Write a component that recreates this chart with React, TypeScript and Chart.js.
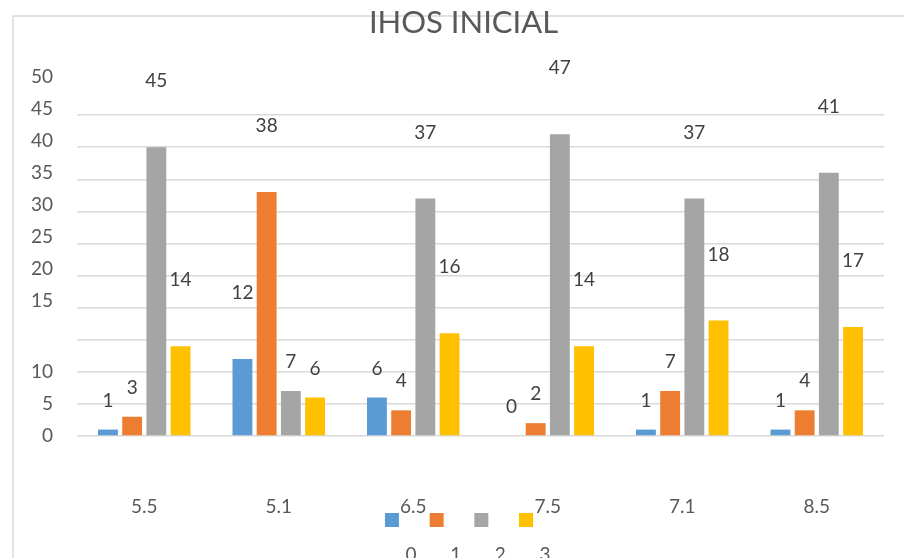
import { useEffect, useRef } from 'react';
import { Chart, registerables } from 'chart.js';

Chart.register(...registerables);

const title = 'IHOS INICIAL';
const categories = ['5.5', '5.1', '6.5', '7.5', '7.1', '8.5'];
const seriesNames = ['0', '1', '2', '3'];
const series0 = [1, 12, 6, 0, 1, 1];
const series1 = [3, 38, 4, 2, 7, 4];
const series2 = [45, 7, 37, 47, 37, 41];
const series3 = [14, 6, 16, 14, 18, 17];
const yTickValues = [0, 5, 10, 15, 20, 25, 30, 35, 40, 45, 50];
const colors = ['#5B9BD5', '#ED7D31', '#A5A5A5', '#FFC000'];

const FONT = 'Lato, "Open Sans", sans-serif';

const decor = {
  id: 'decor',
  beforeDraw(chart: any) {
    const ctx = chart.ctx;
    ctx.save();
    ctx.fillStyle = '#ffffff';
    ctx.fillRect(0, 0, chart.width, chart.height);
    ctx.strokeStyle = '#d9d9d9';
    ctx.lineWidth = 1.5;
    ctx.strokeRect(13, 16, chart.width + 20, chart.height + 20);
    ctx.restore();
  },
  afterDraw(chart: any) {
    const { ctx, chartArea, scales } = chart;
    const cx = (chartArea.left + chartArea.right) / 2;
    ctx.save();
    // title
    ctx.fillStyle = '#595959';
    ctx.font = `400 31px ${FONT}`;
    ctx.textAlign = 'center';
    ctx.textBaseline = 'alphabetic';
    ctx.fillText(title, cx - 17, 33);
    // y labels
    ctx.font = `19px ${FONT}`;
    ctx.textAlign = 'right';
    ctx.textBaseline = 'middle';
    yTickValues.forEach((v) => {
      const y = scales.y.getPixelForValue(v > 10 ? v + 6 : v);
      ctx.fillText(String(v), chartArea.left - 24, y);
    });
    // data labels
    ctx.fillStyle = '#404040';
    ctx.textAlign = 'center';
    chart.data.datasets.forEach((ds: any, di: number) => {
      const meta = chart.getDatasetMeta(di);
      meta.data.forEach((bar: any, i: number) => {
        const v = ds.data[i];
        ctx.fillText(String(v), bar.x, bar.y - (v >= 10 ? 66 : 29));
      });
    });
    // legend
    const spacing = 44.7;
    const legendCenter = cx - 21.5;
    const box = 14;
    ctx.font = `19px ${FONT}`;
    ctx.textBaseline = 'alphabetic';
    seriesNames.forEach((name, i) => {
      const sx = legendCenter + (i - 1.5) * spacing;
      ctx.fillStyle = colors[i];
      ctx.fillRect(sx - box / 2, 513, box, box);
      ctx.fillStyle = '#595959';
      ctx.fillText(name, sx + 19, 561);
    });
    ctx.restore();
  },
};

export default function App() {
  const ref = useRef<HTMLCanvasElement | null>(null);
  useEffect(() => {
    if (!ref.current) return;
    const seriesData = [series0, series1, series2, series3];
    const chart = new Chart(ref.current, {
      type: 'bar',
      data: {
        labels: categories,
        datasets: seriesNames.map((name, i) => ({
          label: name,
          data: seriesData[i],
          backgroundColor: colors[i],
          borderWidth: 0,
          categoryPercentage: 0.72,
          barPercentage: 0.82,
        })),
      },
      options: {
        responsive: false,
        animation: false,
        devicePixelRatio: 1,
        layout: { padding: { left: 77, right: 20, top: 83, bottom: 0 } },
        plugins: {
          legend: { display: false },
          title: { display: false },
          tooltip: { enabled: false },
        },
        scales: {
          x: {
            grid: { display: false },
            border: { display: false },
            ticks: {
              padding: 51,
              color: '#595959',
              font: { family: FONT, size: 19 },
            },
            afterFit: (scale: any) => {
              scale.height = 122;
            },
          },
          y: {
            min: 0,
            max: 55,
            ticks: { display: false, stepSize: 5 },
            border: { display: false },
            grid: {
              drawTicks: false,
              lineWidth: 1.5,
              color: (c: any) => (c.tick && c.tick.value > 50 ? 'rgba(0,0,0,0)' : '#d9d9d9'),
            },
            afterFit: (scale: any) => {
              scale.width = 0;
            },
          },
        },
      },
      plugins: [decor],
    });
    return () => chart.destroy();
  }, []);
  return (
    <div style={{ position: 'fixed', left: 0, top: 0, width: 904, height: 558, background: '#fff' }}>
      <canvas ref={ref} width={904} height={558} style={{ display: 'block' }} />
    </div>
  );
}
